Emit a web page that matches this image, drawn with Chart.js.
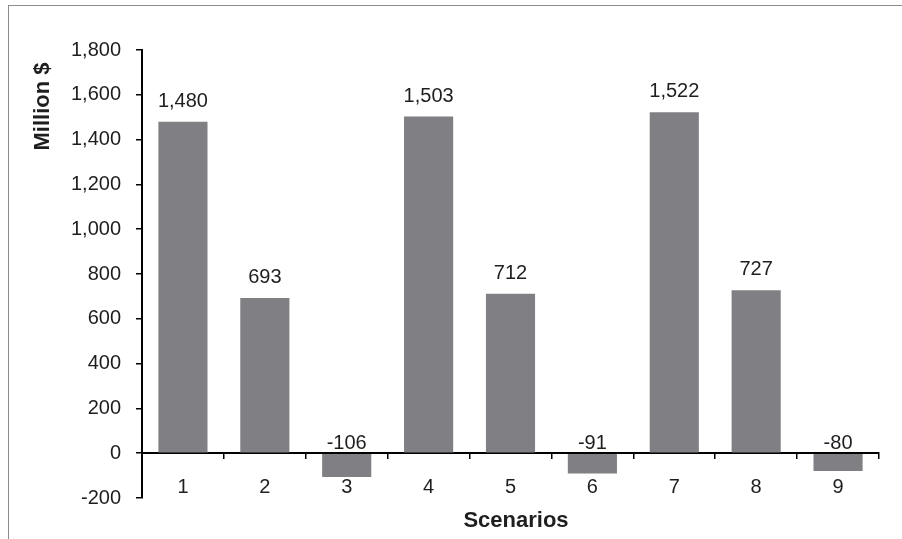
<!DOCTYPE html>
<html>
<head>
<meta charset="utf-8">
<script src="https://cdn.jsdelivr.net/npm/chart.js@4.4.1/dist/chart.umd.min.js"></script>
<style>
  html, body { margin: 0; padding: 0; background: #ffffff; }
  #wrap { position: relative; width: 902px; height: 539px; }
  #frame { position: absolute; left: 8px; top: 5px; right: 0; bottom: 0;
           border-top: 1.5px solid #8c8c8c; border-left: 1.5px solid #8c8c8c; }
  canvas { position: absolute; left: 0; top: 0; }
</style>
</head>
<body>
<div id="wrap">
  <div id="frame"></div>
  <canvas id="chart" width="902" height="539"></canvas>
</div>
<script>
// Net result per scenario, million dollars
const scenarios = ['1', '2', '3', '4', '5', '6', '7', '8', '9'];
const netValues = [1480, 693, -106, 1503, 712, -91, 1522, 727, -80];
const yTickRange = { min: -200, max: 1800, step: 200 };
const axisTitles = { x: 'Scenarios', y: 'Million $' };

const FONT = "'Liberation Sans', Arial, sans-serif";
const TEXT = '#1e1e1e';

const fmt = v => Number(v).toLocaleString('en-US');

// Value labels: above the bar top for gains, just above the zero line for losses
const valueLabels = {
  id: 'valueLabels',
  afterDatasetsDraw(chart) {
    const { ctx } = chart;
    const yScale = chart.scales.y;
    const meta = chart.getDatasetMeta(0);
    ctx.save();
    ctx.font = '20px ' + FONT;
    ctx.fillStyle = TEXT;
    ctx.textAlign = 'center';
    ctx.textBaseline = 'alphabetic';
    meta.data.forEach((bar, i) => {
      const v = netValues[i];
      const y = v >= 0 ? yScale.getPixelForValue(v) - 15 : yScale.getPixelForValue(0) - 4.5;
      ctx.fillText(fmt(v), bar.x, y);
    });
    ctx.restore();
  }
};

// Axis titles: the value title sits near the top of the axis, the category title under the labels
const axisTitleText = {
  id: 'axisTitleText',
  afterDraw(chart) {
    const { ctx } = chart;
    ctx.save();
    ctx.font = 'bold 22px ' + FONT;
    ctx.fillStyle = TEXT;
    ctx.textAlign = 'center';
    ctx.textBaseline = 'alphabetic';
    ctx.fillText(axisTitles.x, 516, 527);
    ctx.translate(49, 106.5);
    ctx.rotate(-Math.PI / 2);
    ctx.fillText(axisTitles.y, 0, 0);
    ctx.restore();
  }
};

new Chart(document.getElementById('chart'), {
  type: 'bar',
  data: {
    labels: scenarios,
    datasets: [{
      data: netValues,
      backgroundColor: '#808084',
      borderWidth: 0,
      barPercentage: 0.6,
      categoryPercentage: 1.0
    }]
  },
  options: {
    responsive: false,
    animation: false,
    layout: { padding: { left: 0, right: 23, top: 50, bottom: 41 } },
    plugins: { legend: { display: false }, tooltip: { enabled: false } },
    scales: {
      x: {
        position: { y: 0 },
        offset: true,
        grid: { display: true, offset: true, drawOnChartArea: false, drawTicks: true,
                tickLength: 5, color: '#000', lineWidth: 1.5 },
        border: { display: true, color: '#000', width: 2 },
        ticks: { color: TEXT, font: { family: FONT, size: 20 }, padding: 17, maxRotation: 0 },
        title: { display: false }
      },
      y: {
        min: yTickRange.min,
        max: yTickRange.max,
        ticks: { stepSize: yTickRange.step, color: TEXT, font: { family: FONT, size: 20 },
                 padding: 15, callback: v => fmt(v) },
        grid: { display: true, drawOnChartArea: false, drawTicks: true,
                tickLength: 6, color: '#000', lineWidth: 1.5 },
        border: { display: true, color: '#000', width: 2 },
        title: { display: false },
        afterFit(scale) { scale.width = 142; }
      }
    }
  },
  plugins: [valueLabels, axisTitleText]
});
</script>
</body>
</html>
